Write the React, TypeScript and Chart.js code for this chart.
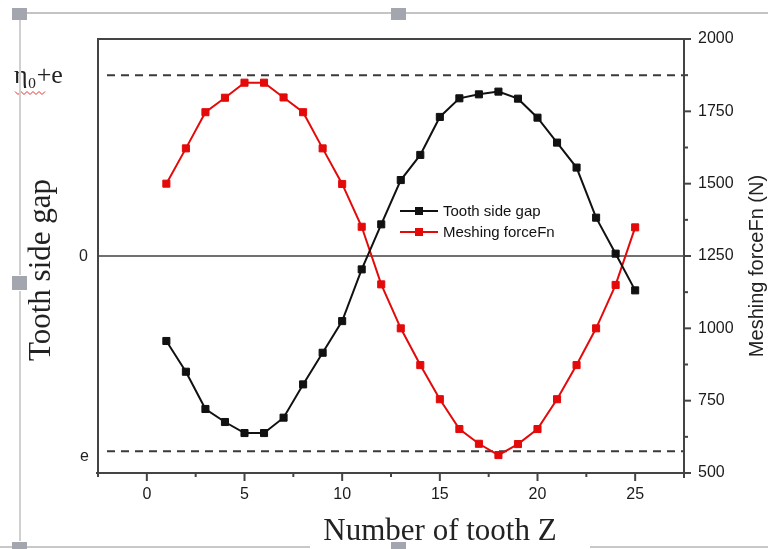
import React, { useEffect, useRef } from 'react';
import { Chart, registerables } from 'chart.js';

Chart.register(...registerables);

// ---- data ----
const TOOTH_Z = [1, 2, 3, 4, 5, 6, 7, 8, 9, 10, 11, 12, 13, 14, 15, 16, 17, 18, 19, 20, 21, 22, 23, 24, 25];
const TOOTH_SIDE_GAP = [-0.47, -0.64, -0.846, -0.918, -0.979, -0.979, -0.894, -0.71, -0.535, -0.36, -0.074, 0.175, 0.42, 0.559, 0.769, 0.872, 0.894, 0.909, 0.87, 0.765, 0.627, 0.489, 0.212, 0.013, -0.19];
const MESHING_FORCE = [1500, 1622, 1747, 1797, 1849, 1849, 1798, 1747, 1622, 1499, 1351, 1152, 1000, 873, 755, 652, 601, 562, 600, 652, 755, 873, 1000, 1150, 1349];
const X_TICKS = [0, 5, 10, 15, 20, 25];
const X_MINOR_STEP = 2.5;
const FORCE_TICKS = [500, 750, 1000, 1250, 1500, 1750, 2000];
const FORCE_MINOR_STEP = 125;
const GAP_LEVELS = [1.0, 0, -1.08];
const GAP_LEVEL_LABELS = ['η₀+e', '0', 'e'];
const SERIES_NAMES = ['Tooth side gap', 'Meshing forceFn'];
const X_TITLE = 'Number of tooth Z';
const LEFT_TITLE = 'Tooth side gap';
const RIGHT_TITLE = 'Meshing forceFn (N)';

const SANS = "'Liberation Sans', Arial, sans-serif";
const SERIF = "'Liberation Serif', 'Times New Roman', serif";
const BLACK = '#111111';
const RED = 'rgb(228,10,10)';

const decorPlugin = {
  id: 'decor',
  beforeDatasetsDraw(chart: any) {
    const { ctx, chartArea: ca, scales } = chart;
    const yL = scales.y;
    ctx.save();
    const y0 = yL.getPixelForValue(GAP_LEVELS[1]);
    ctx.strokeStyle = '#707070';
    ctx.lineWidth = 2;
    ctx.beginPath();
    ctx.moveTo(ca.left, y0);
    ctx.lineTo(ca.right, y0);
    ctx.stroke();
    ctx.setLineDash([8, 6]);
    ctx.strokeStyle = '#3a3a3a';
    [GAP_LEVELS[0], GAP_LEVELS[2]].forEach((v) => {
      const py = yL.getPixelForValue(v);
      ctx.beginPath();
      ctx.moveTo(ca.left + 9, py);
      ctx.lineTo(ca.right, py);
      ctx.stroke();
    });
    ctx.restore();
  },
  afterDatasetsDraw(chart: any) {
    const { ctx, chartArea: ca, scales } = chart;
    const xs = scales.x;
    const yL = scales.y;
    const yR = scales.y1;
    ctx.save();
    // frame
    ctx.strokeStyle = '#444444';
    ctx.lineWidth = 2;
    ctx.beginPath();
    ctx.moveTo(ca.left, ca.bottom);
    ctx.lineTo(ca.left, ca.top);
    ctx.lineTo(ca.right, ca.top);
    ctx.lineTo(ca.right, ca.bottom + 5);
    ctx.moveTo(ca.left - 2, ca.bottom);
    ctx.lineTo(ca.right + 4, ca.bottom);
    ctx.stroke();
    // x ticks
    ctx.lineWidth = 2;
    for (let v = xs.min; v <= xs.max + 1e-6; v += X_MINOR_STEP) {
      const px = xs.getPixelForValue(v);
      const major = X_TICKS.includes(v);
      ctx.beginPath();
      ctx.moveTo(px, ca.bottom);
      ctx.lineTo(px, ca.bottom + (major ? 8 : 4));
      ctx.stroke();
    }
    // right ticks
    for (let v = yR.min; v <= yR.max + 1e-6; v += FORCE_MINOR_STEP) {
      const py = yR.getPixelForValue(v);
      const major = FORCE_TICKS.includes(v);
      ctx.beginPath();
      ctx.moveTo(ca.right, py);
      ctx.lineTo(ca.right + (major ? 7 : 4), py);
      ctx.stroke();
    }
    // left level labels
    ctx.fillStyle = '#222';
    ctx.textBaseline = 'alphabetic';
    ctx.textAlign = 'left';
    ctx.font = `26px ${SERIF}`;
    ctx.fillText(GAP_LEVEL_LABELS[0], 14, yL.getPixelForValue(GAP_LEVELS[0]) + 8);
    ctx.font = `16px ${SANS}`;
    ctx.textAlign = 'right';
    ctx.textBaseline = 'middle';
    ctx.fillText(GAP_LEVEL_LABELS[1], 88, yL.getPixelForValue(GAP_LEVELS[1]) + 1);
    ctx.fillText(GAP_LEVEL_LABELS[2], 89, yL.getPixelForValue(GAP_LEVELS[2]) + 5);
    // wavy underline
    ctx.strokeStyle = '#e03030';
    ctx.lineWidth = 1;
    ctx.beginPath();
    for (let i = 0; i <= 10; i++) {
      const px = 15 + i * 3;
      const py = 93 + (i % 2 === 0 ? -1.5 : 1.5);
      if (i === 0) ctx.moveTo(px, py);
      else ctx.lineTo(px, py);
    }
    ctx.stroke();
    // titles
    ctx.fillStyle = '#222';
    ctx.textAlign = 'center';
    ctx.textBaseline = 'alphabetic';
    ctx.font = `31px ${SERIF}`;
    ctx.fillText(X_TITLE, 440, 540);
    ctx.save();
    ctx.translate(50, 270);
    ctx.rotate(-Math.PI / 2);
    ctx.fillText(LEFT_TITLE, 0, 0);
    ctx.restore();
    ctx.save();
    ctx.translate(763, 266);
    ctx.rotate(-Math.PI / 2);
    ctx.font = `20px ${SANS}`;
    ctx.fillText(RIGHT_TITLE, 0, 0);
    ctx.restore();
    // legend
    const rows = [211, 232];
    chart.data.datasets.forEach((ds: any, i: number) => {
      const y = rows[i];
      ctx.strokeStyle = ds.borderColor;
      ctx.lineWidth = 2;
      ctx.beginPath();
      ctx.moveTo(400, y);
      ctx.lineTo(438, y);
      ctx.stroke();
      ctx.fillStyle = ds.borderColor;
      ctx.fillRect(415, y - 4, 8, 8);
      ctx.fillStyle = '#111';
      ctx.font = `15px ${SANS}`;
      ctx.textAlign = 'left';
      ctx.textBaseline = 'middle';
      ctx.fillText(ds.label, 443, y + 1);
    });
    ctx.restore();
  },
};

const boxStyle = (l: number, t: number, w: number, h: number, bg: string): React.CSSProperties => ({
  position: 'absolute', left: l, top: t, width: w, height: h, background: bg, pointerEvents: 'none',
});

export default function App() {
  const ref = useRef<HTMLCanvasElement | null>(null);
  useEffect(() => {
    if (!ref.current) return;
    const chart = new Chart(ref.current, {
      type: 'line',
      data: {
        datasets: [
          {
            label: SERIES_NAMES[0],
            data: TOOTH_Z.map((z, i) => ({ x: z, y: TOOTH_SIDE_GAP[i] })),
            borderColor: BLACK,
            backgroundColor: BLACK,
            borderWidth: 2,
            pointStyle: 'rect',
            pointRadius: 5,
            pointBorderWidth: 1,
            yAxisID: 'y',
            tension: 0,
          },
          {
            label: SERIES_NAMES[1],
            data: TOOTH_Z.map((z, i) => ({ x: z, y: MESHING_FORCE[i] })),
            borderColor: RED,
            backgroundColor: RED,
            borderWidth: 2,
            pointStyle: 'rect',
            pointRadius: 5,
            pointBorderWidth: 1,
            yAxisID: 'y1',
            tension: 0,
          },
        ],
      },
      options: {
        animation: false,
        responsive: true,
        maintainAspectRatio: false,
        layout: { padding: { top: 39, left: 0, right: 0, bottom: 0 } },
        plugins: { legend: { display: false }, tooltip: { enabled: false } },
        scales: {
          x: {
            type: 'linear',
            min: -2.5,
            max: 27.5,
            afterBuildTicks: (s: any) => { s.ticks = X_TICKS.map((v) => ({ value: v })); },
            afterFit: (s: any) => { s.height = 76; },
            grid: { display: false, drawTicks: false },
            border: { display: false },
            ticks: { padding: 12, color: '#1a1a1a', font: { family: SANS, size: 16 }, callback: (v: any) => String(v) },
          },
          y: {
            type: 'linear',
            position: 'left',
            min: -1.2,
            max: 1.2,
            afterFit: (s: any) => { s.width = 98; },
            grid: { display: false, drawTicks: false },
            border: { display: false },
            ticks: { display: false },
          },
          y1: {
            type: 'linear',
            position: 'right',
            min: 500,
            max: 2000,
            afterBuildTicks: (s: any) => { s.ticks = FORCE_TICKS.map((v) => ({ value: v })); },
            afterFit: (s: any) => { s.width = 84; },
            grid: { display: false, drawTicks: false },
            border: { display: false },
            ticks: { padding: 14, color: '#1a1a1a', font: { family: SANS, size: 16 }, callback: (v: any) => String(v) },
          },
        },
      } as any,
      plugins: [decorPlugin],
    });
    return () => chart.destroy();
  }, []);

  return (
    <div style={{ position: 'fixed', left: 0, top: 0, width: 768, height: 549, background: '#fff', overflow: 'hidden' }}>
      <canvas ref={ref} style={{ position: 'absolute', left: 0, top: 0 }} />
      <div style={boxStyle(27, 12, 741, 2, '#c4c4c4')} />
      <div style={boxStyle(19, 20, 2, 255, '#d0d0d0')} />
      <div style={boxStyle(19, 291, 2, 250, '#d0d0d0')} />
      <div style={boxStyle(0, 546, 310, 2, '#c8c8c8')} />
      <div style={boxStyle(590, 546, 178, 2, '#c8c8c8')} />
      <div style={boxStyle(12, 8, 15, 12, '#a3a6af')} />
      <div style={boxStyle(391, 8, 15, 12, '#a3a6af')} />
      <div style={boxStyle(12, 276, 15, 14, '#a3a6af')} />
      <div style={boxStyle(391, 542, 15, 7, '#a3a6af')} />
      <div style={boxStyle(12, 542, 15, 7, '#a3a6af')} />
    </div>
  );
}
